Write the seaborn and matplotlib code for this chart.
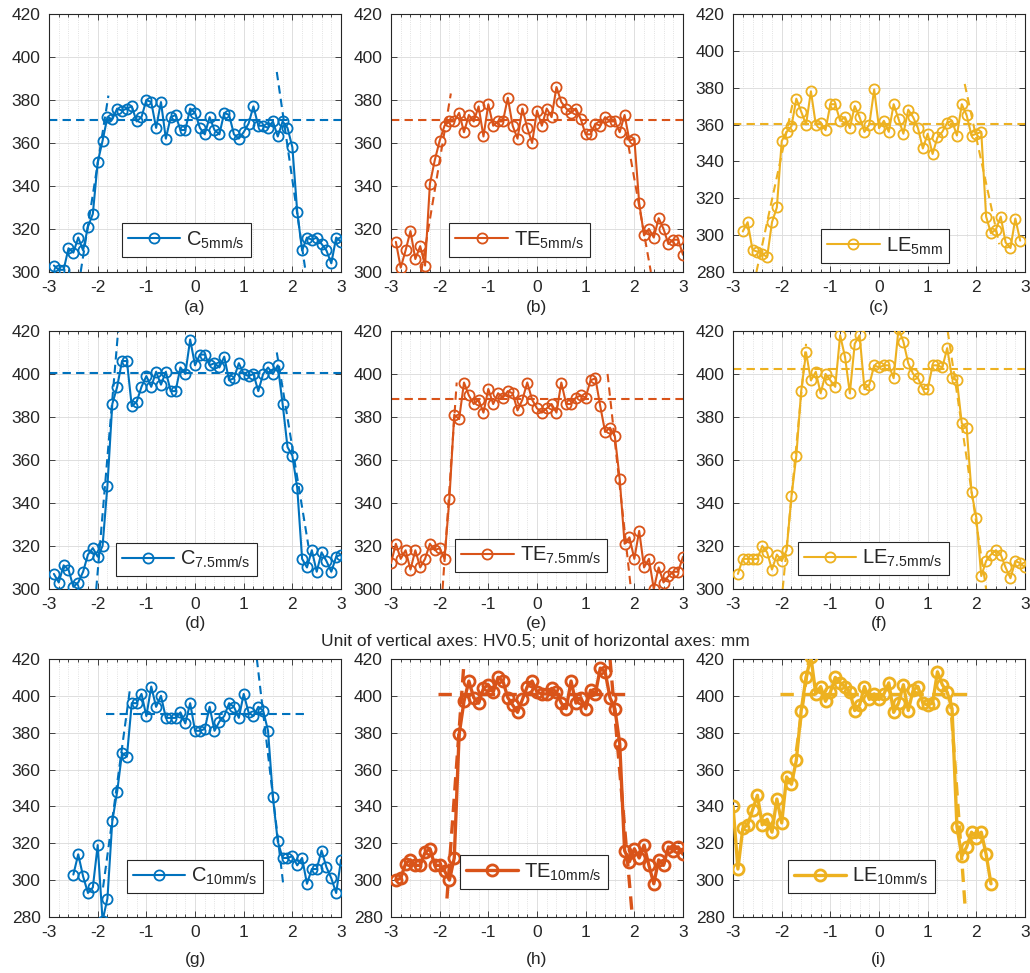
import numpy as np
import pandas as pd
import seaborn as sns
import matplotlib.pyplot as plt
from matplotlib.lines import Line2D
from matplotlib.ticker import MultipleLocator

sns.set_theme(style='ticks')
plt.rcParams['font.family'] = ['Liberation Sans', 'DejaVu Sans']
plt.rcParams['mathtext.fontset'] = 'custom'
plt.rcParams['mathtext.rm'] = 'Liberation Sans'
plt.rcParams['axes.unicode_minus'] = False

BLUE, ORANGE, YELLOW = '#0072BD', '#D95319', '#EDB120'

# Hardness profiles (HV0.5), sample step 0.1 mm
x_a = np.round(np.arange(-2.9, 3.05, 0.1), 1)
hv_a = [303, 301, 301, 311, 309, 316, 310, 321, 327, 351, 361, 372, 371, 376, 375, 376, 377, 370, 372, 380,
        379, 367, 379, 362, 372, 373, 366, 366, 376, 374, 367, 364, 372, 366, 364, 374, 373, 364, 362, 365,
        369, 377, 368, 368, 367, 370, 363, 370, 367, 358, 328, 310, 316, 315, 316, 313, 310, 304, 316, 314]
x_b = np.round(np.arange(-2.9, 3.05, 0.1), 1)
hv_b = [314, 302, 310, 319, 306, 312, 303, 341, 352, 361, 368, 370, 370, 374, 365, 373, 370, 377, 363, 378,
        368, 370, 370, 381, 368, 362, 376, 367, 360, 375, 368, 376, 372, 386, 379, 376, 374, 376, 371, 364,
        364, 369, 368, 372, 370, 370, 365, 373, 361, 362, 332, 317, 320, 316, 325, 320, 313, 315, 315, 308]
x_c = np.round(np.arange(-2.8, 2.95, 0.1), 1)
hv_c = [302, 307, 292, 291, 290, 288, 307, 315, 351, 356, 359, 374, 367, 360, 378, 360, 361, 357, 371, 371,
        362, 364, 358, 370, 364, 356, 360, 379, 358, 362, 356, 371, 363, 355, 368, 364, 358, 347, 355, 344,
        353, 356, 361, 362, 354, 371, 365, 354, 355, 356, 310, 301, 303, 310, 296, 293, 309, 297]
x_d = np.round(np.arange(-2.9, 3.05, 0.1), 1)
hv_d = [307, 303, 311, 309, 301, 303, 308, 316, 319, 315, 320, 348, 386, 394, 406, 406, 385, 387, 394, 399,
        394, 401, 395, 401, 392, 392, 403, 400, 416, 404, 409, 409, 404, 405, 403, 408, 397, 398, 405, 400,
        399, 400, 392, 400, 403, 400, 404, 386, 366, 362, 347, 314, 310, 318, 308, 317, 313, 308, 315, 316]
x_e = np.round(np.arange(-3.0, 3.05, 0.1), 1)
hv_e = [312, 321, 314, 318, 309, 318, 310, 314, 321, 318, 319, 314, 342, 381, 379, 396, 390, 386, 388, 382,
        393, 386, 391, 389, 392, 391, 383, 388, 396, 388, 384, 382, 384, 386, 382, 396, 386, 386, 389, 390,
        389, 397, 398, 385, 373, 375, 371, 351, 321, 324, 314, 327, 310, 314, 300, 310, 303, 306, 308, 308, 315]
x_f = np.round(np.arange(-2.9, 3.05, 0.1), 1)
hv_f = [307, 314, 314, 314, 314, 320, 317, 309, 316, 313, 318, 343, 362, 392, 410, 397, 401, 391, 400, 397,
        394, 418, 408, 391, 414, 418, 393, 395, 404, 403, 404, 404, 398, 421, 415, 405, 400, 398, 393, 393,
        404, 404, 403, 412, 398, 397, 377, 375, 345, 333, 306, 313, 316, 318, 316, 310, 305, 313, 312, 310]
x_g = np.round(np.arange(-2.5, 3.05, 0.1), 1)
hv_g = [303, 314, 302, 293, 296, 319, 278, 290, 332, 348, 369, 367, 396, 396, 401, 389, 405, 394, 400, 388,
        388, 388, 391, 385, 396, 381, 381, 382, 394, 381, 386, 389, 396, 394, 388, 401, 391, 389, 394, 392,
        381, 345, 321, 312, 312, 313, 308, 312, 298, 306, 306, 316, 307, 301, 293, 311]
x_h = np.round(np.arange(-2.9, 3.05, 0.1), 1)
hv_h = [300, 301, 309, 311, 308, 308, 315, 317, 308, 308, 305, 300, 312, 379, 397, 408, 399, 396, 404, 406,
        402, 410, 408, 399, 395, 391, 398, 405, 408, 402, 401, 401, 404, 402, 396, 393, 408, 396, 399, 393,
        403, 401, 415, 413, 399, 393, 374, 316, 310, 317, 312, 319, 308, 298, 311, 308, 318, 316, 318, 314]
x_i = np.round(np.arange(-3.0, 2.35, 0.1), 1)
hv_i = [340, 306, 328, 330, 338, 346, 330, 333, 326, 344, 331, 356, 352, 365, 392, 410, 421, 401, 405, 397,
        402, 410, 407, 405, 402, 392, 395, 405, 398, 401, 398, 401, 407, 391, 396, 406, 392, 403, 405, 396,
        395, 396, 413, 406, 402, 393, 329, 313, 318, 326, 323, 326, 314, 298]

# Fitted plateau level and its x-span, plus the two flank lines ((x0, y0), (x1, y1))
levels = [370.8, 370.5, 360.5, 400.5, 388.5, 402.5, 390, 401, 401]
level_spans = [(-3, 3), (-3, 3), (-3, 3), (-3, 3), (-3, 3), (-3, 3), (-1.82, 2.23), (-2.03, 1.96), (-2.04, 1.93)]
left_flanks = [((-2.35, 300), (-1.78, 382)), ((-2.38, 300), (-1.77, 383)), ((-2.52, 280), (-1.77, 372)),
               ((-2.03, 300), (-1.58, 420)), ((-1.94, 300), (-1.65, 396)), ((-1.98, 300), (-1.5, 414)),
               ((-1.89, 296), (-1.33, 405)), ((-1.85, 290), (-1.5, 418)), ((-1.7, 370), (-1.45, 418))]
right_flanks = [((1.68, 393), (2.26, 302)), ((1.83, 365), (2.34, 300)), ((1.76, 382), (2.47, 295)),
                ((1.68, 410), (2.33, 320)), ((1.45, 400), (1.93, 300)), ((1.41, 420), (2.2, 300)),
                ((1.27, 420), (1.82, 296)), ((1.5, 420), (1.96, 280)), ((1.46, 400), (1.77, 285))]

labels = [r'C$_{\mathregular{5mm/s}}$', r'TE$_{\mathregular{5mm/s}}$', r'LE$_{\mathregular{5mm}}$',
          r'C$_{\mathregular{7.5mm/s}}$', r'TE$_{\mathregular{7.5mm/s}}$', r'LE$_{\mathregular{7.5mm/s}}$',
          r'C$_{\mathregular{10mm/s}}$', r'TE$_{\mathregular{10mm/s}}$', r'LE$_{\mathregular{10mm/s}}$']
captions = ['(a)', '(b)', '(c)', '(d)', '(e)', '(f)', '(g)', '(h)', '(i)']
xs = [x_a, x_b, x_c, x_d, x_e, x_f, x_g, x_h, x_i]
hvs = [hv_a, hv_b, hv_c, hv_d, hv_e, hv_f, hv_g, hv_h, hv_i]
colors = [BLUE, ORANGE, YELLOW] * 3
ymins = [300, 300, 280, 300, 300, 300, 280, 280, 280]
# legend anchor (x centre, bottom) in axes fraction
legend_pos = [(0.47, 0.02), (0.44, 0.02), (0.52, -0.003), (0.47, 0.01), (0.48, 0.027),
              (0.48, 0.015), (0.50, 0.054), (0.49, 0.07), (0.44, 0.054)]

fig = plt.figure(figsize=(10.3, 9.73), dpi=100)
lefts = [0.0476, 0.3796, 0.7117]
bottoms = [0.7205, 0.3947, 0.0576]
caption_y = [0.6835, 0.3587, 0.0134]
w, h = 0.2835, 0.2652
FS = 12.5

for k in range(9):
    row, col = divmod(k, 3)
    ax = fig.add_axes([lefts[col], bottoms[row], w, h])
    c = colors[k]
    thick = k in (7, 8)
    lw = 2.4 if thick else 1.5
    ms = 8 if thick else 7.3
    mew = 2.0 if thick else 1.3

    df = pd.DataFrame({'x': xs[k], 'hv': hvs[k]})
    sns.lineplot(data=df, x='x', y='hv', ax=ax, color=c, lw=lw, marker='o', ms=ms,
                 mfc='none', mec=c, mew=mew, zorder=3)

    dash = dict(color=c, lw=lw, dashes=(4, 2.5), zorder=2)
    ax.plot(level_spans[k], [levels[k]] * 2, **dash)
    for (x0, y0), (x1, y1) in (left_flanks[k], right_flanks[k]):
        ax.plot([x0, x1], [y0, y1], **dash)

    ax.set_xlim(-3, 3)
    ax.set_ylim(ymins[k], 420)
    ax.set_xticks(range(-3, 4))
    ax.set_yticks(range(ymins[k], 421, 20))
    ax.xaxis.set_minor_locator(MultipleLocator(0.2))
    ax.set_xlabel('')
    ax.set_ylabel('')
    ax.set_axisbelow(True)
    ax.grid(which='major', color='#dedede', lw=0.7)
    ax.grid(which='minor', axis='x', color='#d8d8d8', lw=0.6, ls=':')
    ax.tick_params(which='both', direction='in', top=True, right=True, width=0.6,
                   color='#262626', labelsize=FS)
    ax.tick_params(axis='x', pad=5.5)
    ax.tick_params(axis='y', pad=6)
    ax.tick_params(which='major', length=4)
    ax.tick_params(which='minor', length=2.5)
    for sp in ax.spines.values():
        sp.set_color('#262626')
        sp.set_linewidth(0.8)

    handle = Line2D([], [], color=c, lw=lw, marker='o', ms=ms, mfc='none', mec=c, mew=mew)
    leg = ax.legend(handles=[handle], labels=[labels[k]], loc='lower center',
                    bbox_to_anchor=legend_pos[k], numpoints=1, handlelength=2.6,
                    fontsize=14.5, frameon=True, fancybox=False, framealpha=1,
                    edgecolor='#262626', borderpad=0.3, handletextpad=0.3)
    leg.get_frame().set_linewidth(0.8)

    fig.text(lefts[col] + w / 2, caption_y[row], captions[k], ha='center', va='center', fontsize=FS)

fig.text(0.52, 1 - 641 / 973, 'Unit of vertical axes: HV0.5; unit of horizontal axes: mm',
         ha='center', va='center', fontsize=FS)

fig.savefig('out.png', dpi=100)
